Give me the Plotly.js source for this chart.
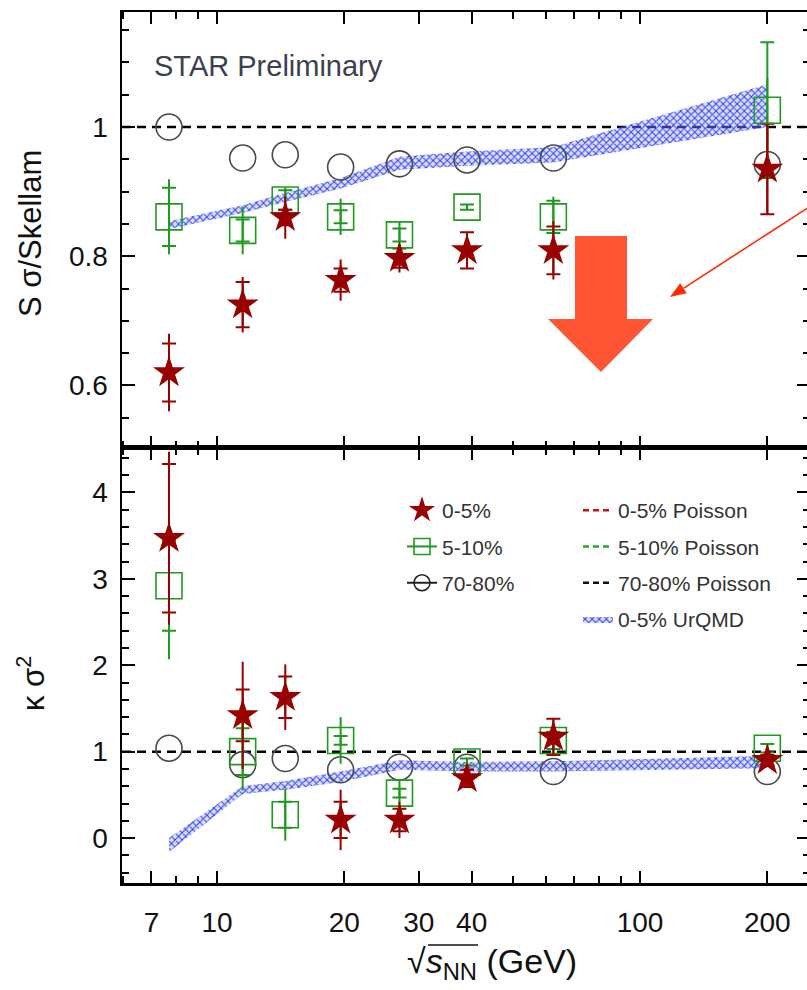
<!DOCTYPE html>
<html>
<head>
<meta charset="utf-8">
<script src="https://cdn.plot.ly/plotly-3.0.1.min.js"></script>
<style>
html,body{margin:0;padding:0;overflow:hidden;background:#fff;}
#chart{width:812px;height:990px;}
</style>
</head>
<body>
<div id="chart"></div>
<script>
// ---- data ----
const energies = [7.7, 11.5, 14.5, 19.6, 27, 39, 62.4, 200];
const xTickVals = [7, 10, 20, 30, 40, 100, 200];
const xTickText = ['7', '10', '20', '30', '40', '100', '200'];
const xMinorVals = [6, 8, 9, 50, 60, 70, 80, 90];

// S sigma / Skellam (top panel)
const sS_05 = [0.62, 0.725, 0.86, 0.763, 0.797, 0.809, 0.809, 0.935];
const sS_05_stat = [0.06, 0.043, 0.033, 0.032, 0.022, 0.015, 0.045, 0.07];
const sS_05_sys = [0.045, 0.035, 0.012, 0.018, 0.015, 0.028, 0.037, 0.07];
const sS_510 = [0.861, 0.84, 0.887, 0.861, 0.833, 0.876, 0.861, 1.026];
const sS_510_stat = [0.058, 0.037, 0.02, 0.028, 0.02, 0.004, 0.031, 0.05];
const sS_510_sys = [0.045, 0.017, 0.015, 0.01, 0.01, 0.004, 0.025, 0.105];
const sS_7080 = [1.0, 0.952, 0.957, 0.938, 0.943, 0.949, 0.952, 0.942];
const sS_urqmd_lo = [0.842, 0.867, 0.884, 0.905, 0.934, 0.940, 0.945, 1.000];
const sS_urqmd_hi = [0.854, 0.879, 0.898, 0.921, 0.954, 0.962, 0.969, 1.066];

// kappa sigma^2 (bottom panel)
const kS_05 = [3.47, 1.42, 1.63, 0.21, 0.21, 0.69, 1.17, 0.9];
const kS_05_stat = [1.0, 0.62, 0.38, 0.35, 0.21, 0.1, 0.2, 0.06];
const kS_05_sys = [0.86, 0.3, 0.24, 0.21, 0.13, 0.1, 0.21, 0.06];
const kS_510 = [2.92, 1.0, 0.27, 1.13, 0.52, 0.88, 1.13, 1.04];
const kS_510_stat = [0.85, 0.45, 0.3, 0.27, 0.16, 0.05, 0.1, 0.05];
const kS_510_sys = [0.52, 0.27, 0.15, 0.05, 0.05, 0.04, 0.1, 0.05];
const kS_7080 = [1.04, 0.85, 0.92, 0.79, 0.82, 0.82, 0.77, 0.77];
const kS_urqmd_lo = [-0.16, 0.51, 0.56, 0.65, 0.79, 0.77, 0.77, 0.81];
const kS_urqmd_hi = [0.0, 0.60, 0.66, 0.77, 0.90, 0.88, 0.89, 0.95];

const poissonLevel = 1;
const legendNames = ['0-5%', '5-10%', '70-80%'];
const poissonNames = ['0-5% Poisson', '5-10% Poisson', '70-80% Poisson'];
const urqmdName = '0-5% UrQMD';

// ---- styles ----
const RED = '#990000', GREEN = '#1f9a1f', GREY = '#4a4a4a', BLUE = '#2b3cf0';
const FONT = 'Liberation Sans, Arial, Helvetica, sans-serif';

function band(lo, hi, xa, ya, showleg) {
  return [
    {x: energies, y: lo, xaxis: xa, yaxis: ya, mode: 'lines', line: {width: 0, color: BLUE},
     showlegend: false, hoverinfo: 'skip'},
    {x: energies, y: hi, xaxis: xa, yaxis: ya, mode: 'lines', line: {width: 0, color: BLUE},
     fill: 'tonexty', fillcolor: 'rgba(120,135,255,0.35)',
     fillpattern: {shape: 'x', fgcolor: BLUE, bgcolor: 'rgba(150,160,255,0.35)', size: 5, solidity: 0.35},
     name: urqmdName, showlegend: showleg, legend: 'legend2', legendgroup: 'u', legendrank: 4, hoverinfo: 'skip'}
  ];
}
function sysTrace(y, sys, color, xa, ya) {
  return {x: energies, y: y, xaxis: xa, yaxis: ya, mode: 'markers',
    marker: {size: 1, color: 'rgba(0,0,0,0)'},
    error_y: {type: 'data', array: sys, color: color, thickness: 2, width: 7},
    showlegend: false, hoverinfo: 'skip'};
}
function dataTrace(y, stat, color, symbol, size, xa, ya) {
  const t = {x: energies, y: y, xaxis: xa, yaxis: ya, mode: 'markers',
    marker: {symbol: symbol, size: size, color: color, line: {width: symbol === 'star' ? 0 : 1.6, color: color}},
    showlegend: false};
  if (stat) t.error_y = {type: 'data', array: stat, color: color, thickness: 2, width: 0};
  return t;
}

const traces = [];
// top panel
traces.push(...band(sS_urqmd_lo, sS_urqmd_hi, 'x2', 'y', false));
traces.push(sysTrace(sS_510, sS_510_sys, GREEN, 'x2', 'y'));
traces.push(sysTrace(sS_05, sS_05_sys, RED, 'x2', 'y'));
traces.push(dataTrace(sS_7080, null, GREY, 'circle-open', 26, 'x2', 'y'));
traces.push(dataTrace(sS_510, sS_510_stat, GREEN, 'square-open', 26, 'x2', 'y'));
traces.push(dataTrace(sS_05, sS_05_stat, RED, 'star', 24, 'x2', 'y'));
// bottom panel
traces.push(...band(kS_urqmd_lo, kS_urqmd_hi, 'x', 'y2', true));
traces.push(sysTrace(kS_510, kS_510_sys, GREEN, 'x', 'y2'));
traces.push(sysTrace(kS_05, kS_05_sys, RED, 'x', 'y2'));
traces.push(dataTrace(kS_7080, null, GREY, 'circle-open', 26, 'x', 'y2'));
traces.push(dataTrace(kS_510, kS_510_stat, GREEN, 'square-open', 26, 'x', 'y2'));
traces.push(dataTrace(kS_05, kS_05_stat, RED, 'star', 24, 'x', 'y2'));

// legend entries (column 1: data, column 2: Poisson + UrQMD)
const legSym = [['star', RED, 'markers'], ['square-open', GREEN, 'lines+markers'], ['circle-open', '#222', 'lines+markers']];
legendNames.forEach((n, i) => {
  traces.push({x: [null], y: [null], xaxis: 'x', yaxis: 'y2', name: n, mode: legSym[i][2],
    marker: {symbol: legSym[i][0], size: 16, color: legSym[i][1], line: {width: 1.6, color: legSym[i][1]}},
    line: {color: legSym[i][1], width: 2},
    legend: 'legend', legendgroup: 'g' + i, legendrank: i + 1, showlegend: true});
});
const poisCol = ['#cc1111', '#22aa22', '#111111'];
poissonNames.forEach((n, i) => {
  traces.push({x: [null], y: [null], xaxis: 'x', yaxis: 'y2', name: n, mode: 'lines',
    line: {color: poisCol[i], width: 2.5, dash: '6px,4px'},
    legend: 'legend2', legendgroup: 'p' + i, legendrank: i + 1, showlegend: true});
});

const W = 812, H = 990, ML = 122, MR = 2, MT = 12, MB = 107;
const PW = W - ML - MR, PH = H - MT - MB;
const px = v => (v - ML) / PW;
const py = v => (H - MB - v) / PH;
const pt = p => px(p[0]).toFixed(4) + ',' + py(p[1]).toFixed(4);

const axisCommon = {showline: true, linewidth: 2.5, linecolor: '#000', ticks: 'inside', tickwidth: 2,
  tickcolor: '#000', mirror: 'allticks', showgrid: false, zeroline: false,
  tickfont: {family: FONT, size: 28, color: '#111'}};

const dashLines = [];
['y', 'y2'].forEach(ya => {
  dashLines.push({type: 'line', xref: 'x domain', yref: ya, x0: 0, x1: 1, y0: poissonLevel, y1: poissonLevel,
    line: {color: '#000', width: 2.5, dash: '9px,6px'}, layer: 'below'});
});

const bigArrow = 'M' + [[575,236],[627,236],[627,319],[653,319],[601,372],[548,319],[575,319]].map(pt).join(' L') + ' Z';
const thinHead = 'M' + [[670,297],[686.7,293.3],[680.1,283.3]].map(pt).join(' L') + ' Z';

const layout = {
  width: W, height: H,
  margin: {l: ML, r: MR, t: MT, b: MB},
  paper_bgcolor: '#fff', plot_bgcolor: 'rgba(0,0,0,0)',
  font: {family: FONT, color: '#222'},
  xaxis: Object.assign({}, axisCommon, {type: 'log', range: [0.7754, 2.4019], anchor: 'y2', domain: [0, 1],
    tickmode: 'array', tickvals: xTickVals, ticktext: xTickText, ticklen: 12, ticklabelstandoff: 13,
    minor: {tickmode: 'array', tickvals: xMinorVals, ticks: 'inside', ticklen: 7, tickwidth: 2, tickcolor: '#000'}}),
  xaxis2: Object.assign({}, axisCommon, {type: 'log', range: [0.7754, 2.4019], anchor: 'y', matches: 'x',
    showticklabels: false, tickmode: 'array', tickvals: xTickVals, ticklen: 12,
    minor: {tickmode: 'array', tickvals: xMinorVals, ticks: 'inside', ticklen: 7, tickwidth: 2, tickcolor: '#000'}}),
  yaxis: Object.assign({}, axisCommon, {domain: [0.5, 1], range: [0.504, 1.178], anchor: 'x2',
    tickmode: 'array', tickvals: [0.6, 0.8, 1], ticktext: ['0.6', '0.8', '1'], ticklen: 13, ticklabelstandoff: 6,
    minor: {dtick: 0.05, tick0: 0, ticks: 'inside', ticklen: 7, tickwidth: 2, tickcolor: '#000'}}),
  yaxis2: Object.assign({}, axisCommon, {domain: [0, 0.5], range: [-0.52, 4.52], anchor: 'x',
    tickmode: 'array', tickvals: [0, 1, 2, 3, 4], ticktext: ['0', '1', '2', '3', '4'], ticklen: 13, ticklabelstandoff: 6,
    minor: {dtick: 0.2, tick0: 0, ticks: 'inside', ticklen: 7, tickwidth: 2, tickcolor: '#000'}}),
  legend: {x: px(402), y: py(490), xanchor: 'left', yanchor: 'top', bgcolor: 'rgba(0,0,0,0)',
    font: {family: FONT, size: 21, color: '#333'}, tracegroupgap: 6, itemwidth: 30, traceorder: 'grouped'},
  legend2: {x: px(578), y: py(490), xanchor: 'left', yanchor: 'top', bgcolor: 'rgba(0,0,0,0)',
    font: {family: FONT, size: 21, color: '#333'}, tracegroupgap: 6, itemwidth: 30, traceorder: 'grouped'},
  shapes: dashLines.concat([
    {type: 'path', xref: 'paper', yref: 'paper', path: bigArrow, fillcolor: '#ff5533', line: {width: 0}, layer: 'above'},
    // thin pointer arrow
    {type: 'line', xref: 'paper', yref: 'paper', x0: px(840), y0: py(187), x1: px(683.4), y1: py(288.3),
     line: {color: '#ff2a00', width: 1.6}},
    {type: 'path', xref: 'paper', yref: 'paper', path: thinHead, fillcolor: '#ff2a00', line: {width: 0}},
    // overline of the square-root sign in the x title
    {type: 'line', xref: 'paper', yref: 'paper', x0: px(428), x1: px(478), y0: py(945), y1: py(945),
     line: {color: '#111', width: 1.6}}
  ]),
  annotations: [
    {xref: 'paper', yref: 'paper', x: px(152), y: py(66), xanchor: 'left', yanchor: 'middle', showarrow: false,
     text: 'STAR Preliminary', font: {family: FONT, size: 29, color: '#3b4150'}},
    {xref: 'paper', yref: 'paper', x: px(31), y: py(233), xanchor: 'center', yanchor: 'middle', showarrow: false,
     textangle: -90, text: 'S σ/Skellam', font: {family: FONT, size: 31, color: '#111'}},
    {xref: 'paper', yref: 'paper', x: px(31), y: py(683), xanchor: 'center', yanchor: 'middle', showarrow: false,
     textangle: -90, text: 'κ σ<sup>2</sup>', font: {family: FONT, size: 31, color: '#111'}},
    {xref: 'paper', yref: 'paper', x: px(492), y: py(963), xanchor: 'center', yanchor: 'middle', showarrow: false,
     text: '√<i>s</i><sub>NN</sub> (GeV)', font: {family: FONT, size: 34, color: '#111'}}
  ]
};

Plotly.newPlot('chart', traces, layout, {displayModeBar: false, staticPlot: true});
</script>
</body>
</html>
